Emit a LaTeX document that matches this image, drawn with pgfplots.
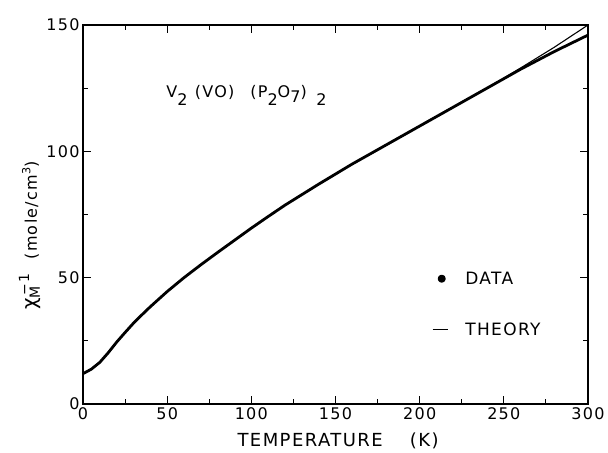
\documentclass[border=0pt]{standalone}
\usepackage{fontspec}
\setmainfont{DejaVu Sans}[LetterSpace=8]
\usepackage{pgfplots}
\pgfplotsset{compat=1.18}
\pgfplotstableread{
T chi
0 12
5 13.8
10 16.5
15 20.3
20 24.5
25 28.3
30 32
35 35.3
40 38.5
45 41.5
50 44.5
60 50
70 55.1
80 60
90 64.8
100 69.6
110 74.2
120 78.7
140 87
160 95
180 102.5
200 110
220 117.5
240 125
260 132.5
280 139.5
300 146
}\datatab
\pgfplotstableread{
T chi
0 12
5 13.8
10 16.5
15 20.3
20 24.5
25 28.3
30 32
35 35.3
40 38.5
45 41.5
50 44.5
60 50
70 55.1
80 60
90 64.8
100 69.6
110 74.2
120 78.7
140 87
160 95
180 102.5
200 110
220 117.5
240 125
260 133
280 141.2
300 150
}\theorytab
\begin{document}
\begin{tikzpicture}
\begin{axis}[
  scale only axis,
  width=505pt, height=379pt,
  xmin=0, xmax=300, ymin=0, ymax=150,
  xtick={0,50,...,300}, ytick={0,50,100,150},
  minor x tick num=1, minor y tick num=1,
  tick align=inside,
  major tick length=8pt, minor tick length=5pt,
  axis line style={line width=1.3pt},
  every tick/.style={line width=1pt, black},
  /pgf/number format/assume math mode=true,
  tick label style={font=\fontsize{16}{19}\selectfont},
  xlabel={TEMPERATURE\hspace{1.5em}(K)},
  xlabel style={at={(axis description cs:0.505,-0.097)}, anchor=center, font=\fontsize{18}{21}\selectfont},
  ylabel={{\fontsize{20}{22}\selectfont χ\textsubscript{M}\kern-10pt\textsuperscript{−1}}\hspace{14pt}{\fontsize{16}{19}\selectfont(mole/cm\textsuperscript{3})}},
  ylabel style={at={(axis description cs:-0.105,0.445)}, anchor=center},
  legend cell align=left,
  legend style={at={(axis description cs:0.685,0.36)}, anchor=north west,
    draw=none, fill=none, row sep=33pt, column sep=15pt, font=\fontsize{17}{20}\selectfont},
]
\addplot[black, line width=2.8pt, line join=round,
  legend image code/.code={\fill[black] (9pt,0pt) circle (2.6pt);}]
  table[x=T, y=chi] {\datatab};
\addlegendentry{DATA}
\addplot[black, line width=1.1pt,
  legend image code/.code={\draw[black, line width=1.2pt] (0pt,0pt) -- (15pt,0pt);}]
  table[x=T, y=chi] {\theorytab};
\addlegendentry{THEORY}
\node[anchor=base west, font=\fontsize{16}{19}\selectfont] at (axis cs:47.5,121.5)
  {V\raisebox{-1.0ex}{2}\hspace{0.45em}(VO)\hspace{1em}(P\raisebox{-1.0ex}{2}O\raisebox{-0.6ex}{7})\hspace{0.6em}\raisebox{-1.0ex}{2}};
\end{axis}
\path[use as bounding box] (-83pt,-48pt) rectangle (525pt,404pt);
\end{tikzpicture}
\end{document}
